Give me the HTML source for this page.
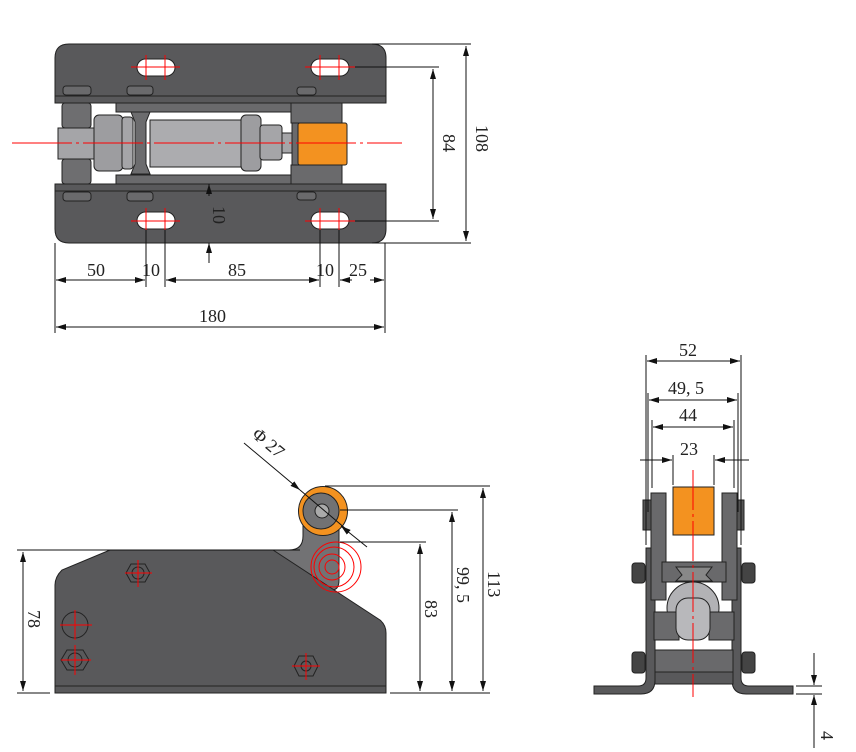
<!DOCTYPE html>
<html><head><meta charset="utf-8"><style>
html,body{margin:0;padding:0;background:#fff;}
svg{display:block;}
text{font-family:"Liberation Serif","Noto Serif CJK SC",serif;font-size:18px;fill:#222;}
</style></head><body>
<svg width="856" height="752" viewBox="0 0 856 752" xmlns="http://www.w3.org/2000/svg">
<defs>
<marker id="ar" viewBox="0 0 10 6" refX="10" refY="3" markerWidth="10" markerHeight="6" orient="auto-start-reverse" markerUnits="userSpaceOnUse"><path d="M0,0 L10,3 L0,6 z" fill="#111"/></marker>
</defs>

<!-- ================= TOP VIEW ================= -->
<g stroke="#222" stroke-width="1">
<path d="M55,103 L55,58 Q55,44 69,44 L372,44 Q386,44 386,58 L386,103 Z" fill="#59595b"/>
<line x1="55" y1="96" x2="386" y2="96"/>
<path d="M55,184 L386,184 L386,229 Q386,243 372,243 L69,243 Q55,243 55,229 Z" fill="#59595b"/>
<line x1="55" y1="191" x2="386" y2="191"/>
<rect x="116" y="103" width="226" height="9" fill="#6a6a6c"/>
<rect x="116" y="175" width="226" height="9" fill="#6a6a6c"/>
<rect x="291" y="103" width="51" height="20" fill="#6a6a6c"/>
<rect x="291" y="165" width="51" height="19" fill="#6a6a6c"/>
<rect x="62" y="103" width="29" height="25" rx="3" fill="#6e6e70"/>
<rect x="62" y="159" width="29" height="25" rx="3" fill="#6e6e70"/>
<rect x="58" y="128" width="37" height="31" fill="#a5a5a8"/>
<rect x="94" y="115" width="29" height="56" rx="5" fill="#9d9da0"/>
<rect x="122" y="117" width="11" height="52" rx="3" fill="#a5a5a8"/>
<path d="M131,112 L150,112 L146,122 L146,164 L150,174 L131,174 L135,164 L135,122 Z" fill="#6c6c6e"/>
<rect x="150" y="120" width="93" height="47" fill="#acacaf"/>
<rect x="241" y="115" width="20" height="56" rx="5" fill="#9d9da0"/>
<rect x="260" y="125" width="22" height="35" rx="3" fill="#a5a5a8"/>
<rect x="282" y="133" width="16" height="20" fill="#a5a5a8"/>
<rect x="292" y="123" width="7" height="42" fill="#6a6a6c"/>
<rect x="298" y="123" width="49" height="42" rx="2" fill="#f39220"/>
<rect x="63" y="86" width="28" height="9" rx="3" fill="#6a6a6c"/>
<rect x="127" y="86" width="26" height="9" rx="3" fill="#6a6a6c"/>
<rect x="297" y="87" width="19" height="8" rx="3" fill="#6a6a6c"/>
<rect x="63" y="192" width="28" height="9" rx="3" fill="#6a6a6c"/>
<rect x="127" y="192" width="26" height="9" rx="3" fill="#6a6a6c"/>
<rect x="297" y="192" width="19" height="8" rx="3" fill="#6a6a6c"/>
<rect x="137" y="59" width="38" height="17" rx="8.5" fill="#fff"/>
<rect x="311" y="59" width="38" height="17" rx="8.5" fill="#fff"/>
<rect x="137" y="212" width="38" height="17" rx="8.5" fill="#fff"/>
<rect x="311" y="212" width="38" height="17" rx="8.5" fill="#fff"/>
</g>
<g stroke="#f00" stroke-width="1">
<line x1="12" y1="143" x2="402" y2="143" stroke-dasharray="60,4,3,4"/>
<line x1="131" y1="67" x2="180" y2="67"/><line x1="146" y1="55" x2="146" y2="80"/><line x1="165" y1="55" x2="165" y2="80"/>
<line x1="305" y1="67" x2="355" y2="67"/><line x1="320" y1="55" x2="320" y2="80"/><line x1="339" y1="55" x2="339" y2="80"/>
<line x1="131" y1="221" x2="180" y2="221"/><line x1="146" y1="208" x2="146" y2="233"/><line x1="165" y1="208" x2="165" y2="233"/>
<line x1="305" y1="221" x2="355" y2="221"/><line x1="320" y1="208" x2="320" y2="233"/><line x1="339" y1="208" x2="339" y2="233"/>
</g>
<g stroke="#111" stroke-width="1" fill="none">
<line x1="372" y1="44" x2="471" y2="44"/><line x1="372" y1="243" x2="471" y2="243"/>
<line x1="466" y1="46" x2="466" y2="241" marker-start="url(#ar)" marker-end="url(#ar)"/>
<line x1="355" y1="67" x2="439" y2="67"/><line x1="355" y1="221" x2="439" y2="221"/>
<line x1="433" y1="69" x2="433" y2="219" marker-start="url(#ar)" marker-end="url(#ar)"/>
<line x1="209" y1="196" x2="209" y2="184" marker-end="url(#ar)"/>
<line x1="209" y1="263" x2="209" y2="243" marker-end="url(#ar)"/>
<line x1="55" y1="243" x2="55" y2="333"/><line x1="385" y1="243" x2="385" y2="333"/>
<line x1="146" y1="230" x2="146" y2="287"/><line x1="165" y1="230" x2="165" y2="287"/>
<line x1="320" y1="230" x2="320" y2="287"/><line x1="339" y1="230" x2="339" y2="287"/>
<line x1="56" y1="280" x2="145" y2="280" marker-start="url(#ar)" marker-end="url(#ar)"/>
<line x1="166" y1="280" x2="319" y2="280" marker-start="url(#ar)" marker-end="url(#ar)"/>
<line x1="340" y1="280" x2="352" y2="280" marker-start="url(#ar)"/>
<line x1="370" y1="280" x2="384" y2="280" marker-end="url(#ar)"/>
<line x1="56" y1="327" x2="384" y2="327" marker-start="url(#ar)" marker-end="url(#ar)"/>
</g>
<text x="87" y="276">50</text><text x="142" y="276">10</text><text x="228" y="276">85</text>
<text x="316" y="276">10</text><text x="349" y="276">25</text><text x="199" y="322">180</text>
<text transform="translate(476,125) rotate(90)">108</text>
<text transform="translate(443,134) rotate(90)">84</text>
<text transform="translate(213,206) rotate(90)">10</text>

<!-- ================= SIDE VIEW ================= -->
<g stroke="#222" stroke-width="1">
<path d="M273,550 L289,550 Q303,550 303,536 L303,511 A18,18 0 0 1 339,511 L339,580 Q339,590 332,590 L300,590 Z" fill="#727274"/>
<path d="M110,550 L273,550 L380,620 Q386,625 386,633 L386,693 L55,693 L55,585 Q55,577 62,570 Z" fill="#59595b"/>
<line x1="55" y1="686" x2="386" y2="686"/>
<circle cx="323" cy="511" r="24.5" fill="#f39220"/>
<circle cx="321" cy="511" r="18" fill="#727274"/>
<circle cx="322" cy="511" r="7" fill="#aaa"/>
<polygon points="131,564 145,564 150,573 145,582 131,582 126,573" fill="none"/>
<circle cx="138" cy="573" r="6" fill="none"/>
<polygon points="67,650 83,650 89,660 83,670 67,670 61,660" fill="none"/>
<circle cx="75" cy="660" r="7" fill="none"/>
<circle cx="75" cy="625" r="13" fill="none"/>
<polygon points="299,656 313,656 318,666 313,676 299,676 294,666" fill="none"/>
<circle cx="306" cy="666" r="5" fill="none"/>
</g>
<g stroke="#f00" stroke-width="1" fill="none">
<line x1="125" y1="573" x2="152" y2="573"/><line x1="138" y1="560" x2="138" y2="587"/>
<line x1="60" y1="625" x2="92" y2="625"/><line x1="75" y1="610" x2="75" y2="640"/>
<line x1="61" y1="660" x2="91" y2="660"/><line x1="75" y1="645" x2="75" y2="675"/>
<line x1="292" y1="666" x2="320" y2="666"/><line x1="306" y1="653" x2="306" y2="680"/>
<circle cx="332" cy="567" r="7"/><circle cx="332" cy="567" r="13"/><circle cx="334" cy="567" r="20"/><circle cx="336" cy="567" r="25"/>
</g>
<g stroke="#111" stroke-width="1" fill="none">
<line x1="17" y1="550" x2="300" y2="550"/><line x1="17" y1="693" x2="50" y2="693"/>
<line x1="23" y1="552" x2="23" y2="691" marker-start="url(#ar)" marker-end="url(#ar)"/>
<line x1="325" y1="486" x2="490" y2="486"/><line x1="340" y1="510" x2="458" y2="510"/><line x1="340" y1="542" x2="426" y2="542"/>
<line x1="390" y1="693" x2="490" y2="693"/>
<line x1="483" y1="488" x2="483" y2="691" marker-start="url(#ar)" marker-end="url(#ar)"/>
<line x1="452" y1="512" x2="452" y2="691" marker-start="url(#ar)" marker-end="url(#ar)"/>
<line x1="420" y1="544" x2="420" y2="691" marker-start="url(#ar)" marker-end="url(#ar)"/>
<line x1="244" y1="443" x2="300" y2="490" marker-end="url(#ar)"/>
<line x1="300" y1="490" x2="346" y2="529"/>
<line x1="367" y1="547" x2="341" y2="526" marker-end="url(#ar)"/>
</g>
<text transform="translate(28,610) rotate(90)">78</text>
<text transform="translate(425,600) rotate(90)">83</text>
<text transform="translate(457,567) rotate(90)">99, 5</text>
<text transform="translate(488,571) rotate(90)">113</text>
<text transform="translate(251,436) rotate(40)">Φ 27</text>

<!-- ================= END VIEW ================= -->
<g stroke="#222" stroke-width="1">
<path d="M594,686 L638,686 Q646,686 646,678 L646,548 L655,548 L655,680 Q655,694 641,694 L594,694 Z" fill="#59595b"/>
<path d="M793,686 L749,686 Q741,686 741,678 L741,548 L732,548 L732,680 Q732,694 746,694 L793,694 Z" fill="#59595b"/>
<rect x="632" y="563" width="13" height="20" rx="3" fill="#444"/><rect x="632" y="652" width="13" height="21" rx="3" fill="#444"/>
<rect x="742" y="563" width="13" height="20" rx="3" fill="#444"/><rect x="742" y="652" width="13" height="21" rx="3" fill="#444"/>
<rect x="643" y="500" width="8" height="30" fill="#555"/><rect x="737" y="500" width="7" height="30" fill="#555"/>
<rect x="651" y="493" width="15" height="107" fill="#69696b"/>
<rect x="722" y="493" width="15" height="107" fill="#69696b"/>
<rect x="662" y="562" width="64" height="20" fill="#69696b"/>
<path d="M676,567 L712,567 L706,575 L712,581 L676,581 L682,575 Z" fill="#888"/>
<circle cx="693" cy="608" r="26" fill="#b2b2b5"/>
<rect x="654" y="612" width="25" height="28" fill="#6a6a6c"/>
<rect x="709" y="612" width="25" height="28" fill="#6a6a6c"/>
<rect x="676" y="598" width="34" height="42" rx="12" fill="#b8b8bb"/>
<rect x="655" y="650" width="78" height="22" fill="#69696b"/>
<rect x="655" y="672" width="78" height="12" fill="#59595b"/>
<rect x="673" y="487" width="41" height="48" fill="#f39220"/>
</g>
<line x1="693" y1="470" x2="693" y2="697" stroke="#f00" stroke-width="1" stroke-dasharray="40,4,3,4"/>
<g stroke="#111" stroke-width="1" fill="none">
<line x1="646" y1="355" x2="646" y2="545"/><line x1="741" y1="355" x2="741" y2="545"/>
<line x1="648" y1="393" x2="648" y2="512"/><line x1="738" y1="393" x2="738" y2="512"/>
<line x1="652" y1="420" x2="652" y2="488"/><line x1="734" y1="420" x2="734" y2="488"/>
<line x1="673" y1="455" x2="673" y2="485"/><line x1="714" y1="455" x2="714" y2="485"/>
<line x1="647" y1="361" x2="740" y2="361" marker-start="url(#ar)" marker-end="url(#ar)"/>
<line x1="649" y1="400" x2="737" y2="400" marker-start="url(#ar)" marker-end="url(#ar)"/>
<line x1="653" y1="427" x2="733" y2="427" marker-start="url(#ar)" marker-end="url(#ar)"/>
<line x1="640" y1="460" x2="672" y2="460" marker-end="url(#ar)"/>
<line x1="749" y1="460" x2="715" y2="460" marker-end="url(#ar)"/>
<line x1="796" y1="686" x2="822" y2="686"/><line x1="796" y1="694" x2="822" y2="694"/>
<line x1="814" y1="653" x2="814" y2="685" marker-end="url(#ar)"/>
<line x1="814" y1="748" x2="814" y2="695" marker-end="url(#ar)"/>
</g>
<text x="679" y="356">52</text><text x="668" y="394">49, 5</text><text x="679" y="421">44</text><text x="680" y="455">23</text>
<text transform="translate(821,731) rotate(90)">4</text>
</svg>
</body></html>
